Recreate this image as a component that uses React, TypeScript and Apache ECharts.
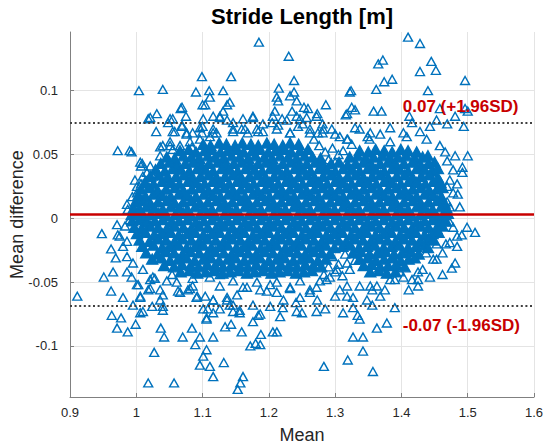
import React, { useEffect, useRef } from "react";
import * as echarts from "echarts";

// ---- axis / reference values ----
const xTicks = [0.9, 1, 1.1, 1.2, 1.3, 1.4, 1.5, 1.6];
const yTicks = [-0.1, -0.05, 0, 0.05, 0.1];
const yRange = [-0.14, 0.146];
const meanDiff = 0.003;
const upperLoA = 0.0749;
const lowerLoA = -0.0687;
const upperLabel = "0.07 (+1.96SD)";
const lowerLabel = "-0.07 (-1.96SD)";
const labelAnchorX = 1.402;
const upperLabelY = 0.0879;
const lowerLabelY = -0.0843;

// ---- data, in thousandths: [mean * 1000, difference * 1000] ----
// dense core (overlapping markers), read row by row
const coreP58 = [[1101,58],[1112,57],[1125,59],[1136,58],[1149,57],[1160,59],[1173,58],[1184,57],[1197,59],[1208,58],[1221,57],[1232,59],[1245,58]];
const coreP53 = [[1066,53],[1079,54],[1090,52],[1103,53],[1114,54],[1127,52],[1138,53],[1151,54],[1162,52],[1175,53],[1186,54],[1199,52],[1210,53],[1223,54],[1234,52],[1247,53],[1259,54],[1337,53],[1350,52],[1361,54],[1374,53],[1386,52],[1399,54],[1410,53],[1423,52]];
const coreP48 = [[1046,48],[1058,47],[1071,49],[1083,48],[1095,47],[1108,49],[1119,48],[1132,47],[1144,49],[1156,48],[1169,47],[1180,49],[1193,48],[1205,47],[1217,49],[1229,48],[1242,47],[1254,49],[1266,48],[1278,47],[1322,48],[1334,49],[1346,47],[1358,48],[1371,49],[1383,47],[1395,48],[1407,49],[1420,47],[1432,48],[1440,49]];
const coreP43 = [[1037,43],[1050,44],[1061,42],[1074,43],[1086,44],[1098,42],[1110,43],[1123,44],[1135,42],[1147,43],[1159,44],[1172,42],[1184,43],[1196,44],[1208,42],[1221,43],[1233,44],[1245,42],[1257,43],[1270,44],[1282,42],[1294,43],[1306,44],[1319,42],[1331,43],[1343,44],[1355,42],[1368,43],[1380,44],[1392,42],[1404,43],[1417,44],[1429,42],[1441,43],[1450,44]];
const coreP38 = [[1029,38],[1043,37],[1055,39],[1067,38],[1080,37],[1092,39],[1104,38],[1116,37],[1129,39],[1141,38],[1153,37],[1165,39],[1178,38],[1190,37],[1202,39],[1214,38],[1227,37],[1239,39],[1251,38],[1263,37],[1276,39],[1288,38],[1300,37],[1312,39],[1325,38],[1337,37],[1349,39],[1361,38],[1374,37],[1386,39],[1398,38],[1410,37],[1423,39],[1435,38],[1447,37],[1455,39]];
const coreP33 = [[1021,33],[1034,34],[1047,32],[1060,33],[1072,34],[1084,32],[1097,33],[1109,34],[1121,32],[1134,33],[1146,34],[1158,32],[1171,33],[1183,34],[1195,32],[1208,33],[1220,34],[1232,32],[1245,33],[1257,34],[1269,32],[1282,33],[1294,34],[1306,32],[1319,33],[1331,34],[1343,32],[1356,33],[1368,34],[1380,32],[1393,33],[1405,34],[1417,32],[1430,33],[1442,34],[1455,32]];
const coreP28 = [[1013,28],[1026,27],[1039,29],[1052,28],[1065,27],[1078,29],[1090,28],[1103,27],[1115,29],[1127,28],[1140,27],[1152,29],[1164,28],[1177,27],[1189,29],[1201,28],[1214,27],[1226,29],[1238,28],[1251,27],[1263,29],[1275,28],[1288,27],[1300,29],[1312,28],[1325,27],[1337,29],[1349,28],[1362,27],[1374,29],[1386,28],[1399,27],[1411,29],[1423,28],[1436,27],[1448,29],[1459,28]];
const coreP23 = [[1007,23],[1019,24],[1032,22],[1045,23],[1058,24],[1071,22],[1084,23],[1096,24],[1109,22],[1121,23],[1133,24],[1146,22],[1158,23],[1170,24],[1183,22],[1195,23],[1207,24],[1220,22],[1232,23],[1244,24],[1257,22],[1269,23],[1281,24],[1294,22],[1306,23],[1318,24],[1331,22],[1343,23],[1355,24],[1368,22],[1380,23],[1392,24],[1405,22],[1417,23],[1429,24],[1442,22],[1454,23],[1462,24]];
const coreP18 = [[1003,18],[1014,17],[1026,19],[1039,18],[1052,17],[1064,19],[1077,18],[1090,17],[1102,19],[1115,18],[1127,17],[1139,19],[1152,18],[1164,17],[1176,19],[1189,18],[1201,17],[1213,19],[1226,18],[1238,17],[1250,19],[1263,18],[1275,17],[1287,19],[1300,18],[1312,17],[1324,19],[1337,18],[1349,17],[1361,19],[1374,18],[1386,17],[1398,19],[1411,18],[1423,17],[1435,19],[1448,18],[1460,17]];
const coreP13 = [[999,13],[1009,14],[1021,12],[1033,13],[1046,14],[1058,12],[1071,13],[1083,14],[1096,12],[1108,13],[1121,14],[1133,12],[1145,13],[1158,14],[1170,12],[1182,13],[1195,14],[1207,12],[1219,13],[1232,14],[1244,12],[1256,13],[1269,14],[1281,12],[1293,13],[1306,14],[1318,12],[1330,13],[1343,14],[1355,12],[1367,13],[1380,14],[1392,12],[1404,13],[1417,14],[1429,12],[1441,13],[1454,14],[1465,12]];
const coreP08 = [[996,8],[1005,7],[1015,9],[1027,8],[1040,7],[1052,9],[1065,8],[1077,7],[1089,9],[1102,8],[1114,7],[1127,9],[1139,8],[1151,7],[1164,9],[1176,8],[1188,7],[1201,9],[1213,8],[1225,7],[1238,9],[1250,8],[1262,7],[1275,9],[1287,8],[1299,7],[1312,9],[1324,8],[1336,7],[1349,9],[1361,8],[1373,7],[1386,9],[1398,8],[1410,7],[1423,9],[1435,8],[1447,7],[1460,9],[1468,8]];
const coreP03 = [[993,3],[1002,4],[1011,2],[1022,3],[1034,4],[1046,2],[1059,3],[1071,4],[1083,2],[1096,3],[1108,4],[1120,2],[1133,3],[1145,4],[1157,2],[1170,3],[1182,4],[1194,2],[1207,3],[1219,4],[1231,2],[1244,3],[1256,4],[1268,2],[1281,3],[1293,4],[1305,2],[1318,3],[1330,4],[1342,2],[1355,3],[1367,4],[1379,2],[1392,3],[1404,4],[1416,2],[1429,3],[1441,4],[1453,2],[1464,3],[1470,4]];
const coreM02 = [[994,-2],[1005,-1],[1016,-3],[1028,-2],[1040,-1],[1053,-3],[1065,-2],[1077,-1],[1090,-3],[1102,-2],[1114,-1],[1127,-3],[1139,-2],[1151,-1],[1164,-3],[1176,-2],[1188,-1],[1201,-3],[1213,-2],[1225,-1],[1238,-3],[1250,-2],[1262,-1],[1275,-3],[1287,-2],[1299,-1],[1312,-3],[1324,-2],[1336,-1],[1349,-3],[1361,-2],[1373,-1],[1386,-3],[1398,-2],[1410,-1],[1423,-3],[1435,-2],[1447,-1],[1458,-3],[1467,-2]];
const coreM07 = [[997,-7],[1008,-8],[1021,-6],[1033,-7],[1046,-8],[1058,-6],[1071,-7],[1083,-8],[1095,-6],[1108,-7],[1120,-8],[1133,-6],[1145,-7],[1157,-8],[1170,-6],[1182,-7],[1194,-8],[1207,-6],[1219,-7],[1231,-8],[1244,-6],[1256,-7],[1268,-8],[1281,-6],[1293,-7],[1305,-8],[1318,-6],[1330,-7],[1342,-8],[1355,-6],[1367,-7],[1379,-8],[1392,-6],[1404,-7],[1416,-8],[1429,-6],[1441,-7],[1453,-8],[1462,-6]];
const coreM12 = [[1001,-12],[1014,-11],[1027,-13],[1039,-12],[1052,-11],[1064,-13],[1077,-12],[1089,-11],[1101,-13],[1114,-12],[1126,-11],[1139,-13],[1151,-12],[1163,-11],[1176,-13],[1188,-12],[1200,-11],[1213,-13],[1225,-12],[1237,-11],[1250,-13],[1262,-12],[1274,-11],[1287,-13],[1299,-12],[1311,-11],[1324,-13],[1336,-12],[1348,-11],[1361,-13],[1373,-12],[1385,-11],[1398,-13],[1410,-12],[1422,-11],[1435,-13],[1447,-12],[1456,-11]];
const coreM17 = [[1005,-17],[1020,-18],[1033,-16],[1045,-17],[1058,-18],[1070,-16],[1083,-17],[1095,-18],[1107,-16],[1120,-17],[1132,-18],[1145,-16],[1157,-17],[1169,-18],[1182,-16],[1194,-17],[1206,-18],[1219,-16],[1231,-17],[1243,-18],[1256,-16],[1268,-17],[1280,-18],[1293,-16],[1305,-17],[1317,-18],[1330,-16],[1342,-17],[1354,-18],[1367,-16],[1379,-17],[1391,-18],[1404,-16],[1416,-17],[1428,-18],[1441,-16],[1448,-17]];
const coreM22 = [[1009,-22],[1026,-21],[1039,-23],[1051,-22],[1064,-21],[1076,-23],[1089,-22],[1101,-21],[1113,-23],[1126,-22],[1138,-21],[1151,-23],[1163,-22],[1175,-21],[1188,-23],[1200,-22],[1212,-21],[1225,-23],[1237,-22],[1249,-21],[1262,-23],[1274,-22],[1286,-21],[1299,-23],[1311,-22],[1323,-21],[1336,-23],[1348,-22],[1360,-21],[1373,-23],[1385,-22],[1397,-21],[1410,-23],[1422,-22],[1434,-21],[1440,-23]];
const coreM27 = [[1015,-27],[1032,-28],[1045,-26],[1057,-27],[1070,-28],[1082,-26],[1095,-27],[1107,-28],[1119,-26],[1132,-27],[1144,-28],[1157,-26],[1169,-27],[1181,-28],[1194,-26],[1206,-27],[1218,-28],[1231,-26],[1243,-27],[1255,-28],[1268,-26],[1280,-27],[1292,-28],[1327,-27],[1339,-26],[1352,-28],[1364,-27],[1376,-26],[1389,-28],[1401,-27],[1413,-26],[1426,-28]];
const coreM32 = [[1024,-32],[1038,-31],[1051,-33],[1063,-32],[1076,-31],[1088,-33],[1101,-32],[1113,-31],[1125,-33],[1138,-32],[1150,-31],[1163,-33],[1175,-32],[1187,-31],[1200,-33],[1212,-32],[1224,-31],[1237,-33],[1249,-32],[1261,-31],[1274,-33],[1286,-32],[1337,-32],[1349,-31],[1362,-33],[1374,-32],[1386,-31],[1399,-33],[1411,-32],[1420,-31]];
const coreM37 = [[1042,-37],[1057,-38],[1069,-36],[1082,-37],[1094,-38],[1107,-36],[1119,-37],[1131,-38],[1144,-36],[1156,-37],[1168,-38],[1181,-36],[1193,-37],[1205,-38],[1218,-36],[1230,-37],[1242,-38],[1255,-36],[1267,-37],[1279,-38],[1343,-37],[1355,-36],[1368,-38],[1380,-37],[1392,-36],[1405,-38]];
const coreM42 = [[1067,-42],[1080,-41],[1092,-43],[1105,-42],[1117,-41],[1130,-43],[1142,-42],[1154,-41],[1167,-43],[1179,-42],[1191,-41],[1204,-43],[1216,-42],[1228,-41],[1241,-43],[1253,-42],[1265,-41],[1353,-42],[1366,-41],[1378,-43],[1391,-42]];

// sparse markers around the core
const upperOutliers = [[1099,111],[1004,100],[1040,101],[1090,99],[1110,100],[1111,95],[1100,89],[1067,86],[1031,82],[1018,78],[1075,80],[1055,78],[1048,75],[1030,68],[1069,72],[1058,68],[1076,66],[1085,67],[1100,72],[1116,67],[972,53],[990,53],[1006,44],[1007,41],[1016,36],[998,30],[1007,27],[1001,20],[1004,15],[987,7],[1036,56],[1051,57],[1025,33],
  [1185,138],[1230,127],[1143,111],[1131,100],[1141,91],[1215,102],[1238,108],[1238,99],[1232,96],[1212,95],[1214,92],[1242,92],[1209,84],[1235,84],[1253,87],[1259,86],[1286,89],[1273,82],[1322,99],[1325,87],[1318,82],[1131,84],[1126,80],[1161,78],[1176,80],[1116,70],[1146,70],[1330,71],[1300,66],[1282,70],
  [1410,142],[1428,137],[1372,124],[1365,121],[1445,123],[1452,116],[1428,115],[1386,109],[1374,107],[1362,101],[1496,108],[1324,100],[1440,100],[1330,85],[1358,84],[1370,84],[1458,86],[1496,86],[1500,84],[1481,80],[1316,81],[1412,80],[1453,77],[1469,74],[1494,72],[1383,71],[1349,64],[1368,66],[1403,67],[1428,68],[1500,49],[1481,49],[1469,45],[1492,40],[1492,36],[1484,27],[1485,19],[1488,9],[1469,13],[1469,25]];
const upperEdge = [[1191,74],[1205,75],[1220,78],[1247,78],[1257,79],[1262,70],[1274,67],[1295,70],[1307,64],[1319,62],[1101,78],[1116,80],[1146,75],[1164,70],[1184,68],[1212,70],[1232,67],[1244,72],[1051,60],[1036,49],[1021,41],[1010,33],[1001,25],[994,17],[986,11],[1081,60],[1096,62],[1066,57],[1318,62],[1352,62],[1383,60],[1408,64],[1438,62],[1458,57],[1466,52],[1478,38],[1473,30],[1478,20],[1473,9],[1337,70],[1353,67],[1416,75],[1443,72]];
const upperBand = [[1055,68],[1051,78],[1069,73],[1076,67],[1096,71],[1099,67],[1111,64],[1121,67],[1126,79],[1137,77],[1146,68],[1159,70],[1168,67],[1176,79],[1182,70],[1191,68],[1206,80],[1214,73],[1227,77],[1242,80],[1251,74],[1272,80],[1281,74],[1232,67],[1262,67],[1281,67],[1021,79],[993,52],[1009,43],[1040,57],[1055,54],[1084,56],[1137,89],[1069,87],[1104,89]];
const midNotch = [[1285,52],[1296,55],[1305,50],[1290,46],[1312,53],[1300,44],[1276,57],[1268,62],[1325,58],[1296,-30],[1305,-36],[1315,-28],[1322,-40],[1300,-42],[1330,-33],[1290,-38],[1311,-45],[1283,-44]];
const lowerOutliers = [[911,-61],[948,-12],[971,-5],[972,-13],[975,-14],[962,-24],[969,-31],[951,-46],[965,-42],[962,-57],[980,-62],[963,-76],[977,-78],[971,-86],[987,-89],[999,-83],[1006,-74],[995,-68],[1018,-56],[1036,-64],[1040,-69],[1037,-86],[1042,-93],[1027,-105],[1018,-129],[1057,-129],[1070,-93],[1084,-86],[1089,-99],[1096,-93],[1101,-108],[1096,-115],[1111,-116],[1116,-124],[1106,-79],[1108,-71],[1092,-61],[1116,-64],[1063,-57],[1078,-56],[1006,-61],[1024,-69],[986,-42],[993,-46],[1001,-52],
  [1132,-113],[1106,-103],[1116,-93],[1153,-134],[1157,-129],[1161,-124],[1172,-100],[1180,-98],[1187,-99],[1188,-91],[1159,-89],[1143,-83],[1134,-85],[1176,-81],[1187,-75],[1212,-89],[1217,-77],[1250,-74],[1283,-116],[1319,-111],[1327,-93],[1312,-74],[1285,-71],[1146,-73],[1126,-71],[1101,-71],[1137,-64],[1222,-64],[1327,-62],[1206,-89],
  [1342,-104],[1357,-120],[1342,-93],[1363,-86],[1378,-82],[1337,-79],[1334,-76],[1390,-70],[1356,-68],[1327,-70],[1411,-56],[1375,-56],[1356,-56],[1425,-53],[1425,-48],[1416,-48],[1443,-46],[1462,-44],[1476,-39],[1481,-35],[1453,-32],[1425,-42],[1484,-22],[1467,-20],[1453,-20],[1437,-27],[1491,-13],[1499,-7],[1511,-11],[1478,-7],[1398,-42],[1390,-48],[1363,-53],[1353,-53],[1318,-53]];
const lowerEdge = [[1111,-46],[1126,-53],[1146,-49],[1161,-54],[1182,-50],[1197,-57],[1212,-50],[1232,-54],[1247,-49],[1262,-56],[1277,-49],[1292,-46],[1303,-40],[1318,-35],[1307,-56],[1104,-61],[1146,-68],[1176,-68],[1202,-69],[1241,-66],[1273,-64],[1300,-61],[1156,-74],[986,-30],[980,-22],[995,-35],[1010,-40],[1025,-46],[1046,-49],[1061,-50],[1085,-53],[1021,-48],[1036,-56],[986,-18],[983,-6],[990,-1],[1337,-53],[1383,-48],[1403,-46],[1432,-40],[1448,-32],[1462,-27],[1473,-19],[1484,-14],[1473,-3],[1368,-61],[1318,-61],[1348,-64]];
const lowerBand = [[1003,-52],[1021,-55],[1040,-60],[1006,-62],[1010,-73],[1040,-72],[1066,-58],[1081,-55],[1091,-62],[1116,-64],[1137,-62],[1152,-60],[1167,-54],[1187,-56],[1202,-52],[1212,-58],[1232,-55],[1247,-62],[1262,-58],[1272,-54],[1287,-48],[1116,-74],[1106,-78],[1141,-68],[1184,-76],[1156,-72],[1221,-70],[1242,-73],[1272,-73],[1028,-47],[1085,-47],[1054,-44],[1126,-44]];

const coreRows = [coreP58, coreP53, coreP48, coreP43, coreP38, coreP33, coreP28, coreP23, coreP18, coreP13, coreP08, coreP03, coreM02, coreM07, coreM12, coreM17, coreM22, coreM27, coreM32, coreM37, coreM42];
const sparseGroups = [upperOutliers, upperEdge, upperBand, midNotch, lowerOutliers, lowerEdge, lowerBand];

const toValues = (pts: number[][]) => pts.map(([m, d]) => [m / 1000, d / 1000]);

const BLUE = "#0072BD";
const RED = "#C80000";
const FONT = "'Liberation Sans', Arial, Helvetica, sans-serif";

export default function App() {
  const ref = useRef<HTMLDivElement>(null);
  useEffect(() => {
    if (!ref.current) return;
    const chart = echarts.init(ref.current, undefined, { renderer: "svg" });
    const coreData = toValues(coreRows.flat());
    const sparseData = toValues(sparseGroups.flat());
    const dotted = { color: "#404040", width: 2.2, type: [2, 2.6] as any };
    chart.setOption({
      animation: false,
      backgroundColor: "#ffffff",
      title: {
        text: "Stride Length [m]",
        left: 302,
        textAlign: "center",
        top: 5,
        padding: 0,
        textStyle: { fontFamily: FONT, fontSize: 22, fontWeight: "bold", color: "#000000" },
      },
      grid: { left: 70, right: 16, top: 32, bottom: 50, containLabel: false, outerBoundsMode: "none" },
      xAxis: {
        type: "value",
        min: xTicks[0],
        max: xTicks[xTicks.length - 1],
        interval: 0.1,
        name: "Mean",
        nameLocation: "middle",
        nameGap: 29,
        nameMoveOverlap: false,
        nameTextStyle: { fontFamily: FONT, fontSize: 18, color: "#262626" },
        axisLine: { show: true, onZero: false, lineStyle: { color: "#808080", width: 1 } },
        axisTick: { show: true, inside: true, length: 4, lineStyle: { color: "#808080" } },
        axisLabel: { fontFamily: FONT, fontSize: 13, color: "#262626", margin: 9 },
        splitLine: { show: true, lineStyle: { color: "#e4e4e4", width: 1 } },
      },
      yAxis: {
        type: "value",
        min: yRange[0],
        max: yRange[1],
        name: "Mean difference",
        nameLocation: "middle",
        nameGap: 44,
        nameRotate: 90,
        nameMoveOverlap: false,
        nameTextStyle: { fontFamily: FONT, fontSize: 18, color: "#262626" },
        axisLine: { show: true, onZero: false, lineStyle: { color: "#808080", width: 1 } },
        axisTick: { show: true, inside: true, length: 4, customValues: yTicks, lineStyle: { color: "#808080" } },
        axisLabel: {
          fontFamily: FONT,
          fontSize: 13,
          color: "#262626",
          margin: 12,
          customValues: yTicks,
          formatter: (v: number) => String(Math.round(v * 1000) / 1000),
        },
        splitLine: { show: true, lineStyle: { color: "#e4e4e4", width: 1 } },
      },
      series: [
        {
          type: "scatter",
          name: "core",
          data: coreData,
          symbol: "triangle",
          symbolSize: [11, 10],
          itemStyle: { color: BLUE, borderColor: BLUE, borderWidth: 1.4, opacity: 1 },
          z: 2,
          silent: true,
        },
        {
          type: "scatter",
          name: "points",
          data: sparseData,
          symbol: "triangle",
          symbolSize: [9, 8],
          itemStyle: { color: "rgba(255,255,255,0)", borderColor: BLUE, borderWidth: 1.4, opacity: 1 },
          z: 3,
          silent: true,
          markLine: {
            silent: true,
            symbol: "none",
            precision: 5,
            label: { show: false },
            z: 6,
            data: [
              { yAxis: upperLoA, lineStyle: dotted },
              { yAxis: lowerLoA, lineStyle: dotted },
              { yAxis: meanDiff, lineStyle: { color: RED, width: 2.6, type: "solid" } },
            ],
          },
          markPoint: {
            silent: true,
            symbol: "circle",
            symbolSize: 0,
            z: 7,
            label: {
              show: true,
              position: "right",
              distance: 0,
              fontFamily: FONT,
              fontSize: 17,
              fontWeight: "bold",
              color: RED,
            },
            data: [
              { coord: [labelAnchorX, upperLabelY], label: { formatter: upperLabel } },
              { coord: [labelAnchorX, lowerLabelY], label: { formatter: lowerLabel } },
            ],
          },
        },
      ],
    });
    return () => chart.dispose();
  }, []);
  return (
    <div
      ref={ref}
      style={{ position: "absolute", left: 0, top: 0, width: 550, height: 447, background: "#fff" }}
    />
  );
}
